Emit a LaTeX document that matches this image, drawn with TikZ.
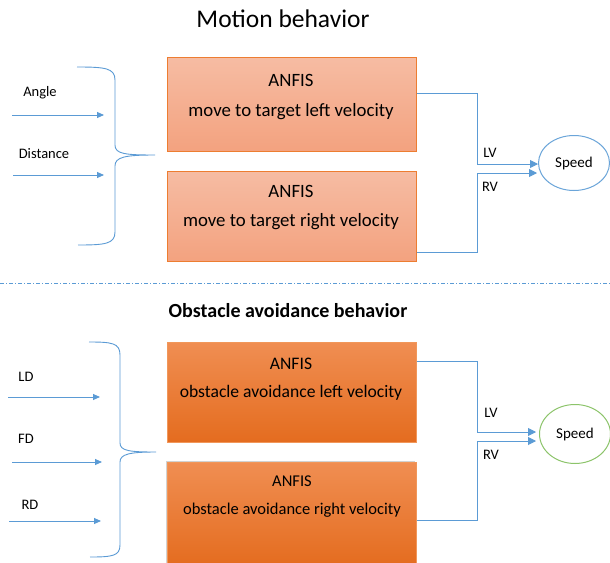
\documentclass[tikz,border=0pt]{standalone}
\usepackage{fontspec}
\setmainfont{Carlito}
\usetikzlibrary{arrows.meta,shapes.geometric,shadows}
\definecolor{lblue}{HTML}{5B9BD5}
\definecolor{bord}{HTML}{ED7D31}
\definecolor{salmonT}{HTML}{F6BCA3}
\definecolor{salmonB}{HTML}{F3A27F}
\definecolor{orT}{HTML}{F08E52}
\definecolor{orB}{HTML}{E46C1F}
\definecolor{egreen}{HTML}{8CC46A}
\begin{document}
\begin{tikzpicture}[x=1pt,y=-1pt,
  lightbox/.style={draw=bord, line width=0.8pt, top color=salmonT, bottom color=salmonB, minimum width=249pt, anchor=north west, inner sep=0pt},
  darkbox/.style={draw=bord!80, line width=0.6pt, top color=orT, bottom color=orB, minimum width=249pt, anchor=north west, inner sep=0pt},
  boxtext/.style={font=\fontsize{18.8}{22}\selectfont, align=center},
  lbl/.style={font=\fontsize{14.5}{17}\selectfont, inner sep=0pt},
  conn/.style={draw=lblue, line width=0.9pt},
  arr/.style={conn, -{Triangle[length=8pt,width=8pt]}},
  brace/.style={draw=lblue, line width=0.9pt},
  spd/.style={ellipse, line width=1pt, minimum width=71pt, minimum height=55pt, inner sep=0pt, font=\fontsize{15}{17}\selectfont}
]
\useasboundingbox (0,0) rectangle (610,562);
\fill[white] (0,0) rectangle (610,562);

% titles
\node[font=\fontsize{25.5}{30}\selectfont] (t1) at (283,19) {Motion behavior};
\node[font=\bfseries\fontsize{20}{24}\selectfont] (t2) at (288,311) {Obstacle avoidance behavior};

% separator
\draw[lblue, line width=0.8pt, dash pattern=on 4pt off 2pt on 1pt off 2pt] (0,283) -- (610,283);

% top boxes
\node[lightbox, minimum height=94pt] (b1) at (167,57) {};
\node[boxtext] at (291,80) {ANFIS};
\node[boxtext] at (291,112) {move to target left velocity};
\node[lightbox, minimum height=90pt] (b2) at (167,171) {};
\node[boxtext] at (291,191) {ANFIS};
\node[boxtext] at (291,222) {move to target right velocity};

% bottom boxes
\node[darkbox, minimum height=100pt] (b3) at (167,342) {};
\node[boxtext, font=\fontsize{17.6}{21}\selectfont] at (291,364) {ANFIS};
\node[boxtext, font=\fontsize{17.6}{21}\selectfont] at (291,393) {obstacle avoidance left velocity};
\node[darkbox, minimum height=104pt, drop shadow={shadow xshift=-1.5pt, shadow yshift=1.5pt, opacity=0.35}] (b4) at (167,462) {};
\node[boxtext, font=\fontsize{16.5}{20}\selectfont] at (292,481) {ANFIS};
\node[boxtext, font=\fontsize{16.5}{20}\selectfont] at (292,510) {obstacle avoidance right velocity};

% ellipses
\node[spd, draw=lblue!90] (s1) at (574,163) {Speed};
\node[spd, draw=egreen, minimum height=59pt] (s2) at (575,434) {Speed};

% top connectors
\coordinate (c1) at (477,93);
\coordinate (c2) at (477,252);
\draw[conn] (b1.east |- c1) -- (c1) -- (477,159);
\draw[arr] (477,159) -- (477,164) -- (s1.west |- 0,164);
\draw[conn] (b2.east |- c2) -- (c2) -- (477,178);
\draw[arr] (477,178) -- (477,173) -- ([xshift=-1pt]s1.west |- 0,173);
\node[lbl] (lv1) at (490,153) {LV};
\node[lbl] (rv1) at (490,187) {RV};

% bottom connectors
\coordinate (c3) at (477,361);
\coordinate (c4) at (477,520);
\draw[arr] (b3.east |- c3) -- (c3) -- (477,432) -- ([xshift=-3pt]s2.west |- 0,432);
\draw[arr] (b4.east |- c4) -- (c4) -- (477,441) -- ([xshift=-3pt]s2.west |- 0,441);
\node[lbl] (lv2) at (491,413) {LV};
\node[lbl] (rv2) at (491,455) {RV};

% top inputs
\node[lbl] (ang) at (40,93) {Angle};
\node[lbl] (dist) at (44,154) {Distance};
\coordinate (a1s) at (12,115);
\coordinate (a1e) at (104,115);
\coordinate (a2s) at (13,175);
\coordinate (a2e) at (104,175);
\draw[arr, -{Triangle[length=7pt,width=6pt]}] (a1s) -- (a1e);
\draw[arr, -{Triangle[length=7pt,width=6pt]}] (a2s) -- (a2e);

% bottom inputs
\node[lbl] (ld) at (26,377) {LD};
\node[lbl] (fd) at (26,439) {FD};
\node[lbl] (rd) at (30,505) {RD};
\coordinate (l1s) at (8,397);
\coordinate (l1e) at (100,397);
\coordinate (l2s) at (12,462);
\coordinate (l2e) at (102,462);
\coordinate (l3s) at (9,521);
\coordinate (l3e) at (101,521);
\draw[arr, -{Triangle[length=7pt,width=6pt]}] (l1s) -- (l1e);
\draw[arr, -{Triangle[length=7pt,width=6pt]}] (l2s) -- (l2e);
\draw[arr, -{Triangle[length=7pt,width=6pt]}] (l3s) -- (l3e);

% braces
\draw[brace] (77,67) .. controls (105,67) and (115,68) .. (115,80)
  -- (115,145) .. controls (115,154) and (125,155) .. (155,155)
  .. controls (125,155) and (115,157) .. (115,166)
  -- (115,232) .. controls (115,244) and (105,245) .. (78,245);
\draw[brace] (89,342) .. controls (112,342) and (120,343) .. (120,355)
  -- (120,443) .. controls (120,451) and (130,452) .. (156,452)
  .. controls (130,452) and (120,454) .. (120,462)
  -- (120,545) .. controls (120,556) and (112,557) .. (90,557);
\end{tikzpicture}
\end{document}
